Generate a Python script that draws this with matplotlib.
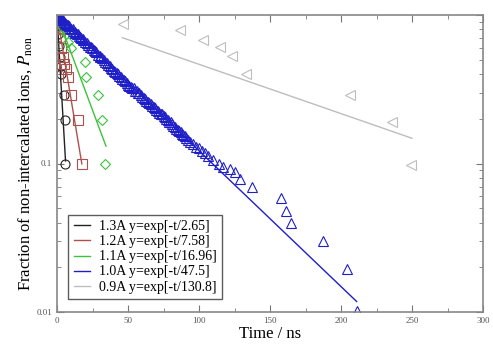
import matplotlib
matplotlib.use("Agg")
import matplotlib.pyplot as plt
import numpy as np
from matplotlib.ticker import MultipleLocator, LogLocator, NullFormatter, FixedLocator, FixedFormatter

plt.rcParams['font.family'] = ['Liberation Serif', 'DejaVu Serif']
plt.rcParams['mathtext.fontset'] = 'stix'

# ---- data ----
labels = ["1.3A y=exp[-t/2.65]", "1.2A y=exp[-t/7.58]", "1.1A y=exp[-t/16.96]",
          "1.0A y=exp[-t/47.5]", "0.9A y=exp[-t/130.8]"]
taus = [2.65, 7.58, 16.96, 47.5, 130.8]
fit_ranges = [(0, 6), (0, 17.5), (0, 34.5), (0, 211), (46, 250)]
colors = ["#222222", "#b0504a", "#3cc23c", "#1f1fc8", "#bdbdbd"]
markers = ["o", "s", "D", "^", "<"]

t13 = [0.0, 0.5, 1.0, 1.5, 2.0, 2.5, 3.0, 4.8, 5.6, 5.6]
y13 = [1.0, 0.86, 0.74, 0.62, 0.52, 0.45, 0.40, 0.29, 0.196, 0.10]

t12 = [0.0, 0.8, 1.5, 2.1, 3.0, 4.2, 5.0, 6.0, 7.7, 9.9, 14.8, 17.6]
y12 = [1.0, 0.92, 0.80, 0.70, 0.60, 0.52, 0.47, 0.43, 0.38, 0.29, 0.196, 0.10]

t11 = [0.0, 1.5, 3.0, 4.5, 6.0, 8.0, 10.0, 19.7, 20.4, 29.0, 32.0, 34.0]
y11 = [1.0, 0.94, 0.88, 0.82, 0.74, 0.66, 0.60, 0.48, 0.38, 0.29, 0.196, 0.10]

t10 = [0.0, 0.5, 1.0, 1.5, 2.0, 2.5, 3.0, 3.5, 4.0, 5.0, 5.5, 6.5, 7.0, 8.0,
       8.5, 9.5, 10.0, 11.0, 11.5, 12.5, 13.0, 14.0, 14.5, 15.5, 16.0, 17.0,
       18.0, 18.5, 20.0, 21.0, 21.5, 23.0, 24.0, 24.5, 26.0, 27.0, 27.5, 29.0,
       30.0, 30.5, 32.0, 33.0, 34.0, 35.0, 36.0, 37.0, 38.0, 39.0, 40.0, 41.0,
       42.0, 43.0, 44.0, 45.0, 46.0, 47.0, 48.0, 49.0, 50.0, 51.0, 52.0, 53.0,
       54.0, 55.0, 56.0, 57.0, 58.0, 59.0, 60.0, 61.0, 62.0, 63.0, 64.0, 65.0,
       66.0, 67.0, 68.0, 69.0, 70.0, 71.0, 72.0, 73.0, 74.0, 75.0, 76.0, 77.0,
       78.0, 79.0, 80.0, 81.0, 82.0, 83.0, 84.0, 85.0, 86.0, 87.0, 88.0, 89.0,
       90.0, 91.0, 92.0, 94.0, 96.0, 98.0, 100.0, 102.0, 104.0, 106.0,
       110.0, 114.0, 117.0, 122.0, 125.0, 129.0, 137.0, 158.0, 161.0, 165.0,
       187.0, 204.0, 211.0]
y10 = [1.0, 0.99, 0.98, 0.97, 0.96, 0.95, 0.94, 0.93, 0.92, 0.90, 0.89, 0.87,
       0.86, 0.85, 0.84, 0.82, 0.81, 0.80, 0.78, 0.77, 0.76, 0.75, 0.74, 0.72,
       0.71, 0.70, 0.69, 0.68, 0.66, 0.65, 0.63, 0.61, 0.61, 0.60, 0.58, 0.57,
       0.56, 0.54, 0.53, 0.52, 0.51, 0.50, 0.48, 0.475, 0.46, 0.455, 0.44,
       0.435, 0.42, 0.415, 0.41, 0.40, 0.39, 0.38, 0.37, 0.365, 0.36, 0.35,
       0.34, 0.335, 0.33, 0.32, 0.32, 0.31, 0.31, 0.30, 0.30, 0.29, 0.28,
       0.275, 0.27, 0.265, 0.26, 0.255, 0.25, 0.245, 0.24, 0.235, 0.23, 0.225,
       0.22, 0.217, 0.215, 0.21, 0.205, 0.20, 0.195, 0.19, 0.19, 0.185, 0.18,
       0.176, 0.172, 0.168, 0.165, 0.162, 0.158, 0.155, 0.152, 0.148, 0.145,
       0.14, 0.135, 0.13, 0.128, 0.122, 0.118, 0.113, 0.106, 0.10, 0.095,
       0.092, 0.088, 0.079, 0.069, 0.059, 0.048, 0.040, 0.030, 0.0196, 0.0102]

t09 = [46.5, 86.6, 103.0, 115.0, 123.0, 133.0, 206.0, 236.0, 249.0]
y09 = [0.87, 0.79, 0.68, 0.605, 0.53, 0.40, 0.29, 0.19, 0.098]

series_t = [t13, t12, t11, t10, t09]
series_y = [y13, y12, y11, y10, y09]

fig = plt.figure(figsize=(4.93, 3.45), dpi=100)
ax = fig.add_axes([57/493, 1 - 312/345, 426/493, 297/345])

handles = []
for tt, yy, tau, (a, b), c, m, lab in zip(series_t, series_y, taus, fit_ranges, colors, markers, labels):
    ax.plot(tt, yy, linestyle='none', marker=m, markersize=6.5 if m != 'D' else 5.5,
            markerfacecolor='none', markeredgecolor=c, markeredgewidth=0.8)
    tf = np.linspace(a, b, 200)
    h, = ax.plot(tf, np.exp(-tf / tau), color=c, lw=1.0, label=lab)
    handles.append(h)

ax.set_yscale('log')
ax.set_xlim(0, 300)
ax.set_ylim(0.01, 1.0)
ax.xaxis.set_major_locator(MultipleLocator(50))
ax.xaxis.set_minor_locator(MultipleLocator(25))
ax.yaxis.set_major_locator(FixedLocator([0.01, 0.1, 1.0]))
ax.yaxis.set_major_formatter(FixedFormatter(["0.01", "0.1", ""]))
ax.yaxis.set_minor_locator(LogLocator(base=10, subs=np.arange(2, 10)))
ax.yaxis.set_minor_formatter(NullFormatter())
ax.tick_params(which='both', direction='in', top=True, right=True, colors='#777777',
               labelsize=6.5, labelcolor='#555555')
ax.tick_params(which='major', length=5)
ax.tick_params(which='minor', length=3)
for s in ax.spines.values():
    s.set_color('#888888')
    s.set_linewidth(1.2)

ax.set_xlabel("Time / ns", fontsize=12, labelpad=1)
ax.set_ylabel("Fraction of non-intercalated ions, $P_{\\rm non}$", fontsize=12, labelpad=2)

leg = ax.legend(handles=handles, loc='lower left', bbox_to_anchor=(0.01, 0.02),
                fontsize=10, frameon=True, fancybox=False, handlelength=1.2,
                labelspacing=0.15, borderpad=0.4, handletextpad=0.6)
leg.get_frame().set_edgecolor('#333333')
leg.get_frame().set_linewidth(1.0)

fig.savefig("out.png", dpi=100)
